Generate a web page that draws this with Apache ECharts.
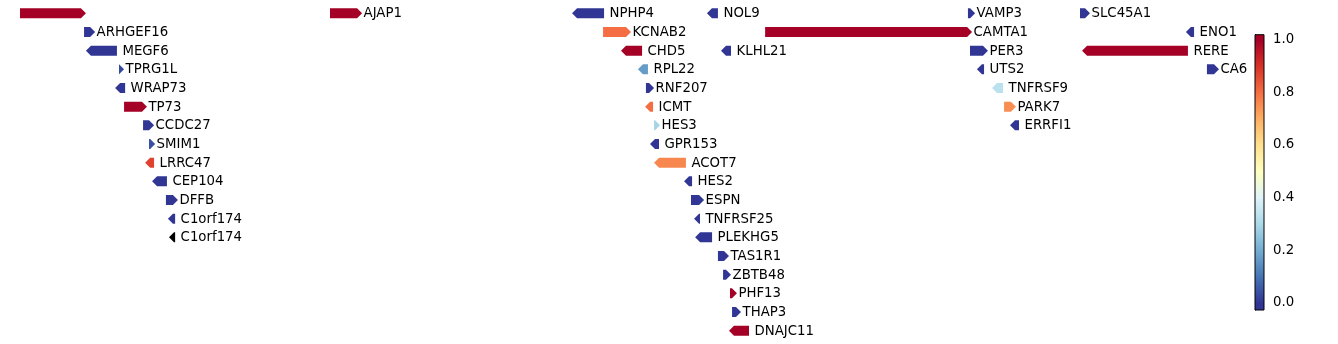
<!DOCTYPE html>
<html><head><meta charset="utf-8">
<script src="https://cdn.jsdelivr.net/npm/echarts@6/dist/echarts.min.js"></script>
<style>html,body{margin:0;padding:0;background:#fff}#c{width:1338px;height:344px}</style>
</head><body><div id="c"></div>
<script>
// Gene track data (genomic positions in kb, strand, stacking row, colour value)
const geneNames = ['', 'AJAP1', 'NPHP4', 'NOL9', 'VAMP3', 'SLC45A1',
  'ARHGEF16', 'KCNAB2', 'CAMTA1', 'ENO1',
  'MEGF6', 'CHD5', 'KLHL21', 'PER3', 'RERE',
  'TPRG1L', 'RPL22', 'UTS2', 'CA6',
  'WRAP73', 'RNF207', 'TNFRSF9',
  'TP73', 'ICMT', 'PARK7',
  'CCDC27', 'HES3', 'ERRFI1',
  'SMIM1', 'GPR153',
  'LRRC47', 'ACOT7',
  'CEP104', 'HES2',
  'DFFB', 'ESPN',
  'C1orf174', 'TNFRSF25',
  'C1orf174', 'PLEKHG5',
  'TAS1R1', 'ZBTB48', 'PHF13', 'THAP3', 'DNAJC11'];
const geneStartKb = [3018, 4537, 5723, 6384, 7663, 8212,
  3332, 5875, 6669, 8731,
  3341, 5963, 6453, 7673, 8222,
  3503, 6046, 7707, 8834,
  3484, 6085, 7781,
  3528, 6081, 7840,
  3621, 6125, 7869,
  3650, 6105,
  3631, 6125,
  3665, 6272,
  3733, 6306,
  3743, 6321,
  3748, 6326,
  6438, 6463, 6497, 6507, 6492];
const geneEndKb = [3341, 4694, 5880, 6438, 7698, 8261,
  3386, 6012, 7683, 8771,
  3493, 6066, 6502, 7761, 8741,
  3528, 6095, 7742, 8893,
  3533, 6125, 7835,
  3640, 6120, 7898,
  3675, 6154, 7913,
  3680, 6149,
  3675, 6281,
  3738, 6311,
  3792, 6370,
  3778, 6350,
  3778, 6409,
  6492, 6502, 6531, 6551, 6590];
const geneStrand = [1, 1, -1, -1, 1, 1,
  1, 1, 1, -1,
  -1, -1, -1, 1, -1,
  1, -1, -1, 1,
  -1, 1, -1,
  1, -1, 1,
  1, 1, -1,
  1, -1,
  -1, -1,
  -1, -1,
  1, 1,
  -1, -1,
  -1, -1,
  1, 1, 1, 1, -1];
const geneRow = [0, 0, 0, 0, 0, 0,
  1, 1, 1, 1,
  2, 2, 2, 2, 2,
  3, 3, 3, 3,
  4, 4, 4,
  5, 5, 5,
  6, 6, 6,
  7, 7,
  8, 8,
  9, 9,
  10, 10,
  11, 11,
  12, 12,
  13, 14, 15, 16, 17];
const geneValue = [1.0, 1.0, 0.0, 0.0, 0.0, 0.0,
  0.0, 0.8, 1.0, 0.0,
  0.0, 1.0, 0.0, 0.0, 1.0,
  0.03, 0.17, 0.0, 0.0,
  0.0, 0.0, 0.33,
  1.0, 0.8, 0.75,
  0.0, 0.29, 0.0,
  0.04, 0.0,
  0.87, 0.76,
  0.0, 0.0,
  0.0, 0.0,
  0.0, 0.0,
  null, 0.0,
  0.0, 0.0, 1.0, 0.0, 1.0];
const colorbarTicks = [0.0, 0.2, 0.4, 0.6, 0.8, 1.0];
const colorbarMin = -0.028, colorbarMax = 1.02;
const colorMin = 0, colorMax = 1;
const rdylbuR = ['#313695','#4575b4','#74add1','#abd9e9','#e0f3f8','#ffffbf','#fee090','#fdae61','#f46d43','#d73027','#a50026'];

const geneData = geneNames.map((n, i) => [geneStartKb[i], geneEndKb[i], geneStrand[i], geneRow[i],
  geneValue[i] == null ? colorMin : geneValue[i]]);

const FONT = '13.3px "DejaVu Sans"';

function renderGene(params, api) {
  const i = params.dataIndex;
  const s = api.coord([api.value(0), api.value(3)]);
  const e = api.coord([api.value(1), api.value(3)]);
  const strand = api.value(2);
  const x0 = s[0], x1 = e[0], yc = s[1];
  const h = 10, hl = 5;
  const head = Math.min(hl, x1 - x0);
  let pts;
  if (strand > 0) {
    pts = [[x0, yc - h / 2], [x1 - head, yc - h / 2], [x1, yc], [x1 - head, yc + h / 2], [x0, yc + h / 2]];
  } else {
    pts = [[x1, yc - h / 2], [x0 + head, yc - h / 2], [x0, yc], [x0 + head, yc + h / 2], [x1, yc + h / 2]];
  }
  const fill = geneValue[i] == null ? '#000000' : api.visual('color');
  return {
    type: 'group',
    children: [
      { type: 'polygon', shape: { points: pts }, style: { fill: fill } },
      { type: 'text', x: x1 + (strand > 0 ? 1.5 : 5.5), y: yc + 0.5,
        style: { text: geneNames[i], font: FONT, fill: '#000', verticalAlign: 'middle', align: 'left' } }
    ]
  };
}

function renderColorbar(params, api) {
  const tl = api.coord([0, colorbarMax]);
  const br = api.coord([1, colorbarMin]);
  const span = colorbarMax - colorbarMin;
  const n = rdylbuR.length - 1;
  const stops = [{ offset: 0, color: rdylbuR[n] }];
  for (let k = n; k >= 0; k--) {
    const v = colorMin + (colorMax - colorMin) * k / n;
    stops.push({ offset: (colorbarMax - v) / span, color: rdylbuR[k] });
  }
  stops.push({ offset: 1, color: rdylbuR[0] });
  return {
    type: 'rect',
    shape: { x: tl[0], y: tl[1], width: br[0] - tl[0], height: br[1] - tl[1] },
    style: { fill: new echarts.graphic.LinearGradient(0, 0, 0, 1, stops), stroke: '#000', lineWidth: 1 }
  };
}

const chart = echarts.init(document.getElementById('c'), null, { renderer: 'canvas' });
chart.setOption({
  animation: false,
  backgroundColor: '#fff',
  grid: [
    { left: 0, right: 0, top: 4, bottom: 4 },
    { left: 1255, top: 34.7, width: 9, height: 275.3 }
  ],
  xAxis: [
    { type: 'value', gridIndex: 0, min: 2920, max: 2920 + 1338 * 4.9, show: false },
    { type: 'value', gridIndex: 1, min: 0, max: 1, show: false }
  ],
  yAxis: [
    { type: 'value', gridIndex: 0, min: -0.5, max: 17.5, inverse: true, show: false },
    { type: 'value', gridIndex: 1, min: colorbarMin, max: colorbarMax, position: 'right',
      axisLine: { show: true, lineStyle: { color: '#000', width: 1 } },
      axisTick: { show: true, length: 4, customValues: colorbarTicks, lineStyle: { color: '#000' } },
      axisLabel: { show: true, customValues: colorbarTicks, margin: 9, color: '#000',
        fontFamily: 'DejaVu Sans', fontSize: 13.3, formatter: v => Number(v).toFixed(1) },
      splitLine: { show: false } }
  ],
  visualMap: {
    type: 'continuous', show: false, min: colorMin, max: colorMax, dimension: 4, seriesIndex: 0,
    inRange: { color: rdylbuR }
  },
  series: [
    { type: 'custom', xAxisIndex: 0, yAxisIndex: 0, clip: false, data: geneData, renderItem: renderGene,
      encode: { x: [0, 1], y: 3 } },
    { type: 'custom', xAxisIndex: 1, yAxisIndex: 1, z: 1, data: [[0, colorbarMin]], renderItem: renderColorbar,
      encode: { x: 0, y: 1 } }
  ]
});
</script>
</body></html>
